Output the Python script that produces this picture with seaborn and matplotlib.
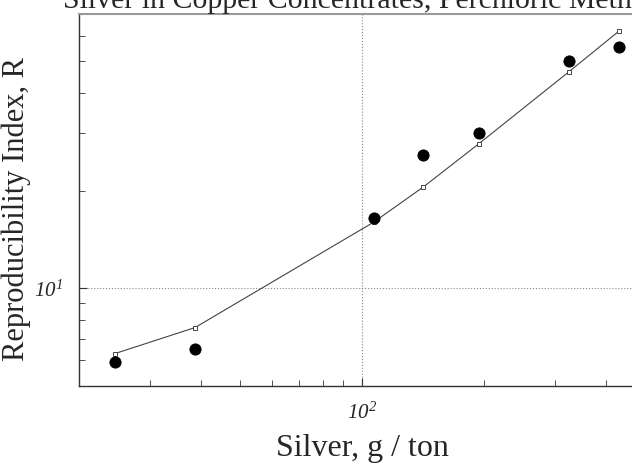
import matplotlib
matplotlib.use("Agg")
import matplotlib.pyplot as plt
import matplotlib.ticker as mticker
import seaborn as sns
import pandas as pd

# fitted reproducibility curve (open squares)
fit_silver = [24.5, 38.7, 107, 141.6, 194.5, 324, 432]
fit_R = [6.29, 7.57, 16.0, 20.5, 27.9, 46.4, 62.1]

# observed reproducibility (filled circles)
obs_silver = [24.5, 38.7, 107, 141.6, 194.5, 324, 432]
obs_R = [5.94, 6.52, 16.5, 25.8, 30.0, 50.1, 55.3]

title = "Silver in Copper Concentrates, Perchloric Method"
xlabel = "Silver, g / ton"
ylabel = "Reproducibility Index, R"

sns.set_style("ticks")
plt.rcParams['font.family'] = ['Liberation Serif', 'DejaVu Serif']
plt.rcParams['mathtext.fontset'] = 'custom'
plt.rcParams['mathtext.rm'] = 'Liberation Serif:italic'
plt.rcParams['mathtext.it'] = 'Liberation Serif:italic'

fit = pd.DataFrame({"silver": fit_silver, "R": fit_R})
obs = pd.DataFrame({"silver": obs_silver, "R": obs_R})

fig = plt.figure(figsize=(6.32, 4.68), dpi=100)
ax = fig.add_axes([0.125, 0.1752, 0.8956, 0.795])

sns.lineplot(data=fit, x="silver", y="R", ax=ax, color="#444444", lw=0.8,
             marker="s", markersize=3.5, markerfacecolor="white",
             markeredgecolor="#444444", markeredgewidth=0.7)
sns.scatterplot(data=obs, x="silver", y="R", ax=ax, color="black", s=65,
                edgecolor="black", zorder=3)

ax.set_xscale("log")
ax.set_yscale("log")
ax.set_xlim(20, 500)
ax.set_ylim(5, 70)

ax.xaxis.set_major_locator(mticker.FixedLocator([100]))
ax.xaxis.set_major_formatter(mticker.FixedFormatter([r"$10^{2}$"]))
ax.xaxis.set_minor_locator(mticker.LogLocator(subs=range(2, 10)))
ax.xaxis.set_minor_formatter(mticker.NullFormatter())
ax.yaxis.set_major_locator(mticker.FixedLocator([10]))
ax.yaxis.set_major_formatter(mticker.FixedFormatter([r"$10^{1}$"]))
ax.yaxis.set_minor_locator(mticker.LogLocator(subs=range(2, 10)))
ax.yaxis.set_minor_formatter(mticker.NullFormatter())

ax.tick_params(which="both", direction="in", color="#333333")
ax.tick_params(which="major", length=6, labelsize=15, pad=12)
ax.tick_params(which="minor", length=4)
ax.grid(True, which="major", ls=":", color="#888888", lw=0.8)

for side in ["left", "bottom"]:
    ax.spines[side].set_color("#333333")
    ax.spines[side].set_linewidth(1.0)
ax.spines["top"].set_color("#999999")
ax.spines["top"].set_linewidth(1.5)

ax.set_title(title, fontsize=21.5, pad=2)
ax.set_xlabel(xlabel, fontsize=23, labelpad=7)
ax.set_ylabel(ylabel, fontsize=22)
ax.yaxis.set_label_coords(-0.085, 0.475)

fig.savefig("out.png", dpi=100)
